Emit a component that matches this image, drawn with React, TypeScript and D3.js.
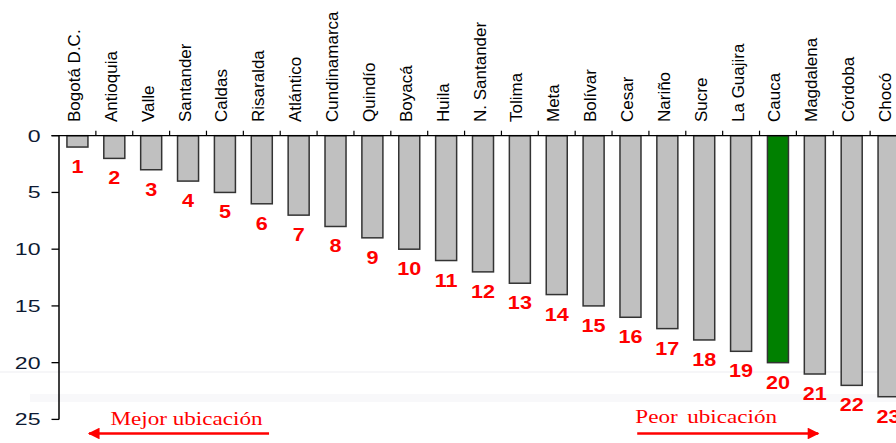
import React from 'react';
import * as d3 from 'd3';

// departamentos, ordered by position
const departments = [
  'Bogotá D.C.', 'Antioquia', 'Valle', 'Santander', 'Caldas', 'Risaralda', 'Atlántico',
  'Cundinamarca', 'Quindío', 'Boyacá', 'Huila', 'N. Santander', 'Tolima', 'Meta',
  'Bolívar', 'Cesar', 'Nariño', 'Sucre', 'La Guajira', 'Cauca', 'Magdalena', 'Córdoba', 'Chocó',
];
const positions = [1, 2, 3, 4, 5, 6, 7, 8, 9, 10, 11, 12, 13, 14, 15, 16, 17, 18, 19, 20, 21, 22, 23];
const yTicks = [0, 5, 10, 15, 20, 25];
const highlighted = 'Cauca';
const betterLabel = 'Mejor ubicación';
const worseLabel = 'Peor ubicación';

const W = 896;
const H = 443;
const margin = { left: 59, top: 135.7, right: -11, bottom: 23.6 };

const sans = 'Liberation Sans, Arial, sans-serif';
const serif = 'Liberation Serif, Times New Roman, serif';
const RED = '#ff0000';

export default function App() {
  const x = d3.scaleBand<string>()
    .domain(departments)
    .range([margin.left, W - margin.right])
    .paddingInner(0.43)
    .paddingOuter(0.215);
  const step = x.step();
  const y = d3.scaleLinear().domain([0, 25]).range([margin.top, H - margin.bottom]);

  const bandStart = (d: string) => x(d)! - x.paddingOuter() * step;
  const center = (d: string) => x(d)! + x.bandwidth() / 2;

  // arrows sit under a given department
  const betterCx = center(departments[3]);
  const worseCx = center(departments[17]);
  const arrowY = 433.5;

  return (
    <svg width={W} height={H} style={{ position: 'absolute', left: 0, top: 0, display: 'block', background: '#fff' }}>
      <defs>
        <marker id="head" viewBox="0 0 10 10" refX="9" refY="5" markerWidth="5" markerHeight="4.5" orient="auto-start-reverse" markerUnits="strokeWidth">
          <path d="M0,0 L10,5 L0,10 z" fill={RED} />
        </marker>
      </defs>

      {/* faint scan bands */}
      <rect x={0} y={371} width={W} height={2} fill="#f6f6f8" />
      <rect x={30} y={394} width={W} height={8} fill="#f8f8fa" />

      {/* bars */}
      {departments.map((d, i) => (
        <rect
          key={d}
          x={x(d)}
          y={y(0)}
          width={x.bandwidth()}
          height={y(positions[i]) - y(0)}
          fill={d === highlighted ? '#008000' : '#c0c0c0'}
          stroke="#333"
          strokeWidth={1.5}
        />
      ))}

      {/* top axis at 0 */}
      <line x1={margin.left - 7.5} x2={W} y1={y(0)} y2={y(0)} stroke="#000" strokeWidth={1.3} />
      {departments.map((d, i) => i > 0 && (
        <line key={'t' + d} x1={bandStart(d)} x2={bandStart(d)} y1={y(0) - 5} y2={y(0)} stroke="#000" strokeWidth={1.2} />
      ))}
      {departments.map(d => (
        <text
          key={'l' + d}
          transform={`translate(${center(d) + 2.5},122) rotate(-90)`}
          fontFamily={sans}
          fontSize={17}
          fill="#000"
        >{d}</text>
      ))}

      {/* y axis */}
      <line x1={margin.left} x2={margin.left} y1={y(0)} y2={y(25)} stroke="#000" strokeWidth={1.5} />
      {yTicks.map(t => (
        <g key={'y' + t}>
          <line x1={margin.left - 7.5} x2={margin.left} y1={y(t)} y2={y(t)} stroke="#000" strokeWidth={1.3} />
          <text
            transform={`translate(40.5,${y(t)}) scale(1.4,1)`}
            dy="0.36em"
            textAnchor="end"
            fontFamily={sans}
            fontSize={16.5}
            fill="#0d1a33"
          >{t}</text>
        </g>
      ))}

      {/* position labels */}
      {departments.map((d, i) => (
        <text
          key={'r' + d}
          transform={`translate(${center(d)},${y(positions[i]) + 26}) scale(1.2,1)`}
          textAnchor="middle"
          fontFamily={sans}
          fontWeight="bold"
          fontSize={18}
          fill={RED}
        >{positions[i]}</text>
      ))}

      {/* direction notes */}
      <text transform={`translate(${betterCx - 1.5},425) scale(1.25,1)`} textAnchor="middle" fontFamily={serif} fontSize={18.5} fill={RED}>{betterLabel}</text>
      <line x1={betterCx + 81} x2={betterCx - 99} y1={arrowY} y2={arrowY} stroke={RED} strokeWidth={2.6} markerEnd="url(#head)" />

      <text transform={`translate(${worseCx + 2},423) scale(1.25,1)`} textAnchor="middle" fontFamily={serif} fontSize={18.5} fill={RED} style={{ wordSpacing: '3px' }}>{worseLabel}</text>
      <line x1={worseCx - 67} x2={worseCx + 114} y1={arrowY} y2={arrowY} stroke={RED} strokeWidth={2.6} markerEnd="url(#head)" />
    </svg>
  );
}
